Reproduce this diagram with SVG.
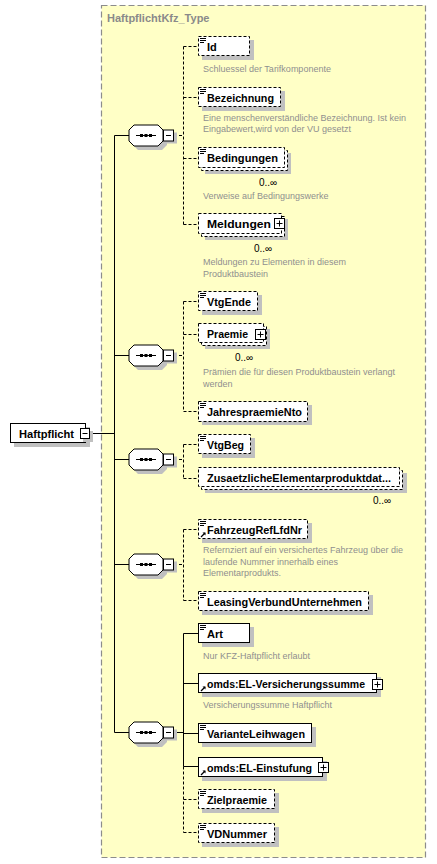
<svg xmlns="http://www.w3.org/2000/svg" xmlns:xlink="http://www.w3.org/1999/xlink" width="437" height="864" viewBox="0 0 437 864">
<style>
.bg{fill:#fff}
.type{fill:#FFFFC6;stroke:#8c8c8c;stroke-width:1.2;stroke-dasharray:6,3}
.title{font-family:"Liberation Sans",Arial,sans-serif;font-weight:bold;font-size:11px;fill:#8a8a8a}
.sh{fill:#c0c0c0}
.bs{fill:#fff;stroke:#000;stroke-width:1}
.bd{fill:#fff;stroke:#000;stroke-width:1;stroke-dasharray:3,2}
.nm{font-family:"Liberation Sans",Arial,sans-serif;font-weight:bold;font-size:11px;fill:#000}
.doc{font-family:"Liberation Sans",Arial,sans-serif;font-size:9px;fill:#8f8f8f}
.card{font-family:"Liberation Sans",Arial,sans-serif;font-size:10px;fill:#000}
.ln{fill:none;stroke:#000;stroke-width:1}
.dl{fill:none;stroke:#000;stroke-width:1;stroke-dasharray:3,2}
</style>
<defs>
<g id="seq">
<path class="sh" d="M138,-6.5 H162 L167,-1.5 V9.5 L162,14.5 H138 L133,9.5 V-1.5 Z"/>
<path d="M134,-10.5 H158 L163,-5.5 V5.5 L158,10.5 H134 L129,5.5 V-5.5 Z" fill="#fff" stroke="#000"/>
<line x1="136" y1="0" x2="156" y2="0" stroke="#000"/>
<rect x="140" y="-1.5" width="3" height="3" fill="#000"/>
<rect x="144.5" y="-1.5" width="3" height="3" fill="#000"/>
<rect x="149" y="-1.5" width="3" height="3" fill="#000"/>
<rect x="166" y="-3" width="11" height="11" class="sh"/>
<rect x="163.5" y="-5.5" width="10" height="11" fill="#fff" stroke="#000"/>
<line x1="166" y1="0" x2="171" y2="0" stroke="#000"/>
</g>
<g id="eq">
<line x1="200" y1="0.5" x2="206" y2="0.5" stroke="#000"/>
<line x1="200" y1="2.5" x2="206" y2="2.5" stroke="#000"/>
<line x1="200" y1="4.5" x2="204" y2="4.5" stroke="#000"/>
</g>
<g id="ref">
<line x1="201" y1="0" x2="205" y2="-4" stroke="#000" stroke-width="1.3"/>
<path d="M202.5,-4.5 H205.5 V-1.5 Z" fill="#000"/>
</g>
<g id="plus">
<rect x="0.5" y="0.5" width="10" height="10" fill="#fff" stroke="#000"/>
<line x1="2.5" y1="5.5" x2="8.5" y2="5.5" stroke="#000"/>
<line x1="5.5" y1="2.5" x2="5.5" y2="8.5" stroke="#000"/>
</g>
</defs>
<rect class="bg" x="0" y="0" width="437" height="864"/>
<rect class="type" x="101.5" y="5.5" width="324" height="852"/>
<text class="title" x="107" y="22">HaftpflichtKfz_Type</text>

<g id="connectors">
<line class="ln" x1="90" y1="433.5" x2="114.5" y2="433.5"/>
<line class="ln" x1="114.5" y1="135.5" x2="114.5" y2="732.5"/>
<line class="ln" x1="114.5" y1="135.5" x2="129" y2="135.5"/>
<line class="ln" x1="114.5" y1="355.5" x2="129" y2="355.5"/>
<line class="ln" x1="114.5" y1="459.5" x2="129" y2="459.5"/>
<line class="ln" x1="114.5" y1="564.5" x2="129" y2="564.5"/>
<line class="ln" x1="114.5" y1="732.5" x2="129" y2="732.5"/>
<line class="dl" x1="174" y1="135.5" x2="183.5" y2="135.5"/>
<line class="dl" x1="183.5" y1="46.5" x2="183.5" y2="224.5"/>
<line class="dl" x1="183.5" y1="46.5" x2="198" y2="46.5"/>
<line class="dl" x1="183.5" y1="97.5" x2="198" y2="97.5"/>
<line class="dl" x1="183.5" y1="158.5" x2="198" y2="158.5"/>
<line class="dl" x1="183.5" y1="224.5" x2="198" y2="224.5"/>
<line class="dl" x1="174" y1="355.5" x2="183.5" y2="355.5"/>
<line class="dl" x1="183.5" y1="301.5" x2="183.5" y2="411.5"/>
<line class="dl" x1="183.5" y1="301.5" x2="198" y2="301.5"/>
<line class="dl" x1="183.5" y1="334.5" x2="198" y2="334.5"/>
<line class="dl" x1="183.5" y1="411.5" x2="198" y2="411.5"/>
<line class="dl" x1="174" y1="459.5" x2="183.5" y2="459.5"/>
<line class="dl" x1="183.5" y1="444.5" x2="183.5" y2="478.5"/>
<line class="dl" x1="183.5" y1="444.5" x2="198" y2="444.5"/>
<line class="dl" x1="183.5" y1="478.5" x2="198" y2="478.5"/>
<line class="dl" x1="174" y1="564.5" x2="183.5" y2="564.5"/>
<line class="dl" x1="183.5" y1="529.5" x2="183.5" y2="600.5"/>
<line class="dl" x1="183.5" y1="529.5" x2="198" y2="529.5"/>
<line class="dl" x1="183.5" y1="600.5" x2="198" y2="600.5"/>
<line class="ln" x1="174" y1="732.5" x2="183.5" y2="732.5"/>
<line class="ln" x1="183.5" y1="633.5" x2="183.5" y2="766.5"/>
<line class="dl" x1="183.5" y1="766.5" x2="183.5" y2="832.5"/>
<line class="ln" x1="183.5" y1="633.5" x2="198" y2="633.5"/>
<line class="ln" x1="183.5" y1="683.5" x2="198" y2="683.5"/>
<line class="ln" x1="183.5" y1="733.5" x2="198" y2="733.5"/>
<line class="ln" x1="183.5" y1="766.5" x2="198" y2="766.5"/>
<line class="dl" x1="183.5" y1="799.5" x2="198" y2="799.5"/>
<line class="dl" x1="183.5" y1="832.5" x2="198" y2="832.5"/>
</g>

<g id="seq1"><use xlink:href="#seq" transform="translate(0,135.5)"/></g>
<g id="seq2"><use xlink:href="#seq" transform="translate(0,355.5)"/></g>
<g id="seq3"><use xlink:href="#seq" transform="translate(0,459.5)"/></g>
<g id="seq4"><use xlink:href="#seq" transform="translate(0,564.5)"/></g>
<g id="seq5"><use xlink:href="#seq" transform="translate(0,732.5)"/></g>

<g id="Haftpflicht">
<rect class="sh" x="14" y="427" width="76" height="20"/>
<rect class="bs" x="10.5" y="423.5" width="75" height="19"/>
<text class="nm" x="19" y="437.5" textLength="55" lengthAdjust="spacingAndGlyphs">Haftpflicht</text>
<rect class="sh" x="83" y="431" width="10" height="11"/>
<rect x="80.5" y="428.5" width="9" height="10" fill="#fff" stroke="#000"/>
<line x1="82.5" y1="433.5" x2="87.5" y2="433.5" stroke="#000"/>
</g>

<g id="Id">
<rect class="sh" x="202" y="40" width="52" height="20"/>
<rect class="bd" x="198.5" y="36.5" width="51" height="19"/>
<use xlink:href="#eq" transform="translate(0,38)"/>
<text class="nm" x="207" y="50.5">Id</text>
<text class="doc" x="203" y="72">Schluessel der Tarifkomponente</text>
</g>

<g id="Bezeichnung">
<rect class="sh" x="202" y="91" width="83" height="20"/>
<rect class="bd" x="198.5" y="87.5" width="82" height="19"/>
<use xlink:href="#eq" transform="translate(0,89)"/>
<text class="nm" x="207" y="101.5" textLength="67" lengthAdjust="spacingAndGlyphs">Bezeichnung</text>
<text class="doc" x="203" y="121">Eine menschenverständliche Bezeichnung. Ist kein</text>
<text class="doc" x="203" y="132">Eingabewert,wird von der VU gesetzt</text>
</g>

<g id="Bedingungen">
<rect class="sh" x="205" y="153" width="86" height="21"/>
<rect class="bd" x="201.5" y="150.5" width="86" height="20"/>
<rect class="bd" x="198.5" y="147.5" width="86" height="20"/>
<use xlink:href="#eq" transform="translate(0,149)"/>
<text class="nm" x="207" y="162" textLength="71" lengthAdjust="spacingAndGlyphs">Bedingungen</text>
<text class="card" x="259" y="185.5">0..∞</text>
<text class="doc" x="203" y="198.5">Verweise auf Bedingungswerke</text>
</g>

<g id="Meldungen">
<rect class="sh" x="205" y="219" width="83" height="21"/>
<rect class="bd" x="201.5" y="216.5" width="83" height="20"/>
<rect class="bd" x="198.5" y="213.5" width="83" height="20"/>
<text class="nm" x="207" y="228" textLength="64" lengthAdjust="spacingAndGlyphs">Meldungen</text>
<use xlink:href="#plus" transform="translate(274,218)"/>
<text class="card" x="254" y="251.5">0..∞</text>
<text class="doc" x="203" y="265">Meldungen zu Elementen in diesem</text>
<text class="doc" x="203" y="276.5">Produktbaustein</text>
</g>

<g id="VtgEnde">
<rect class="sh" x="202" y="295" width="60" height="20"/>
<rect class="bd" x="198.5" y="291.5" width="59" height="19"/>
<use xlink:href="#eq" transform="translate(0,293)"/>
<text class="nm" x="207" y="305.5" textLength="44" lengthAdjust="spacingAndGlyphs">VtgEnde</text>
</g>

<g id="Praemie">
<rect class="sh" x="205" y="329" width="65" height="20"/>
<rect class="bd" x="201.5" y="326.5" width="65" height="19"/>
<rect class="bd" x="198.5" y="323.5" width="65" height="19"/>
<text class="nm" x="207" y="338" textLength="41" lengthAdjust="spacingAndGlyphs">Praemie</text>
<use xlink:href="#plus" transform="translate(255,329)"/>
<text class="card" x="235" y="361">0..∞</text>
<text class="doc" x="203" y="375">Prämien die für diesen Produktbaustein verlangt</text>
<text class="doc" x="203" y="386.5">werden</text>
</g>

<g id="JahrespraemieNto">
<rect class="sh" x="202" y="405" width="110" height="20"/>
<rect class="bd" x="198.5" y="401.5" width="109" height="20"/>
<use xlink:href="#eq" transform="translate(0,403)"/>
<text class="nm" x="207" y="415.5" textLength="95" lengthAdjust="spacingAndGlyphs">JahrespraemieNto</text>
</g>

<g id="VtgBeg">
<rect class="sh" x="202" y="438" width="53" height="20"/>
<rect class="bd" x="198.5" y="434.5" width="52" height="19"/>
<use xlink:href="#eq" transform="translate(0,436)"/>
<text class="nm" x="207" y="448.5" textLength="37" lengthAdjust="spacingAndGlyphs">VtgBeg</text>
</g>

<g id="ZusaetzlicheElementarproduktdaten">
<rect class="sh" x="205" y="473" width="202" height="20"/>
<rect class="bd" x="201.5" y="470.5" width="201" height="19"/>
<rect class="bd" x="198.5" y="467.5" width="201" height="19"/>
<text class="nm" x="207" y="482" textLength="184" lengthAdjust="spacingAndGlyphs">ZusaetzlicheElementarproduktdat...</text>
<text class="card" x="373" y="504">0..∞</text>
</g>

<g id="FahrzeugRefLfdNr">
<rect class="sh" x="202" y="523" width="110" height="20"/>
<rect class="bd" x="198.5" y="519.5" width="109" height="19"/>
<use xlink:href="#eq" transform="translate(0,521)"/>
<use xlink:href="#ref" transform="translate(0,537)"/>
<text class="nm" x="207" y="533.5" textLength="95" lengthAdjust="spacingAndGlyphs">FahrzeugRefLfdNr</text>
<text class="doc" x="203" y="553">Refernziert auf ein versichertes Fahrzeug über die</text>
<text class="doc" x="203" y="564.5">laufende Nummer innerhalb eines</text>
<text class="doc" x="203" y="576">Elementarprodukts.</text>
</g>

<g id="LeasingVerbundUnternehmen">
<rect class="sh" x="202" y="595" width="171" height="20"/>
<rect class="bd" x="198.5" y="591.5" width="170" height="19"/>
<use xlink:href="#eq" transform="translate(0,593)"/>
<text class="nm" x="207" y="605.5" textLength="155" lengthAdjust="spacingAndGlyphs">LeasingVerbundUnternehmen</text>
</g>

<g id="Art">
<rect class="sh" x="202" y="627" width="52" height="20"/>
<rect class="bs" x="198.5" y="623.5" width="51" height="19"/>
<use xlink:href="#eq" transform="translate(0,625)"/>
<text class="nm" x="207" y="637.5" textLength="16" lengthAdjust="spacingAndGlyphs">Art</text>
<text class="doc" x="203" y="659">Nur KFZ-Haftpflicht erlaubt</text>
</g>

<g id="EL-Versicherungssumme">
<rect class="sh" x="202" y="677" width="179" height="20"/>
<rect class="bs" x="198.5" y="673.5" width="178" height="19"/>
<use xlink:href="#ref" transform="translate(0,691)"/>
<text class="nm" x="207" y="687.5" textLength="158" lengthAdjust="spacingAndGlyphs">omds:EL-Versicherungssumme</text>
<use xlink:href="#plus" transform="translate(372,679)"/>
<text class="doc" x="203" y="708">Versicherungssumme Haftpflicht</text>
</g>

<g id="VarianteLeihwagen">
<rect class="sh" x="202" y="727" width="114" height="20"/>
<rect class="bs" x="198.5" y="723.5" width="113" height="19"/>
<use xlink:href="#eq" transform="translate(0,725)"/>
<text class="nm" x="207" y="737.5" textLength="98" lengthAdjust="spacingAndGlyphs">VarianteLeihwagen</text>
</g>

<g id="EL-Einstufung">
<rect class="sh" x="202" y="761" width="125" height="20"/>
<rect class="bs" x="198.5" y="757.5" width="124" height="19"/>
<use xlink:href="#ref" transform="translate(0,775)"/>
<text class="nm" x="207" y="771.5" textLength="105" lengthAdjust="spacingAndGlyphs">omds:EL-Einstufung</text>
<use xlink:href="#plus" transform="translate(318,762)"/>
</g>

<g id="Zielpraemie">
<rect class="sh" x="202" y="793" width="77" height="20"/>
<rect class="bd" x="198.5" y="789.5" width="76" height="19"/>
<use xlink:href="#eq" transform="translate(0,791)"/>
<text class="nm" x="207" y="803.5" textLength="60" lengthAdjust="spacingAndGlyphs">Zielpraemie</text>
</g>

<g id="VDNummer">
<rect class="sh" x="202" y="827" width="77" height="20"/>
<rect class="bd" x="198.5" y="823.5" width="76" height="19"/>
<use xlink:href="#eq" transform="translate(0,825)"/>
<text class="nm" x="207" y="837.5" textLength="60" lengthAdjust="spacingAndGlyphs">VDNummer</text>
</g>
</svg>
